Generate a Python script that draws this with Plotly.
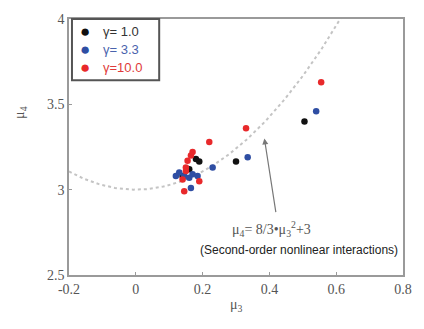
import numpy as np
import plotly.graph_objects as go

# data
black_x = [0.14, 0.16, 0.18, 0.19, 0.30, 0.505]
black_y = [3.08, 3.12, 3.18, 3.165, 3.165, 3.40]
blue_x = [0.12, 0.13, 0.145, 0.16, 0.17, 0.185, 0.165, 0.23, 0.335, 0.54]
blue_y = [3.08, 3.10, 3.08, 3.07, 3.09, 3.08, 3.01, 3.13, 3.19, 3.46]
red_x = [0.14, 0.15, 0.155, 0.165, 0.17, 0.145, 0.19, 0.15, 0.22, 0.33, 0.555]
red_y = [3.06, 3.11, 3.17, 3.20, 3.22, 2.99, 3.05, 3.13, 3.28, 3.36, 3.63]

series_names = ["γ= 1.0", "γ= 3.3", "γ=10.0"]

x_ticks = [-0.2, 0, 0.2, 0.4, 0.6, 0.8]
x_tick_labels = ["-0.2", "0", "0.2", "0.4", "0.6", "0.8"]
y_ticks = [2.5, 3, 3.5, 4]
y_tick_labels = ["2.5", "3", "3.5", "4"]

COLORS = ["#111111", "#2f4ea3", "#e8292b"]
TEXT_COLORS = ["#333333", "#4a63ad", "#e03a3a"]

curve_x = np.linspace(-0.2, 0.62, 120)
curve_y = 8 / 3 * curve_x ** 2 + 3

fig = go.Figure()
fig.add_trace(go.Scatter(x=curve_x, y=curve_y, mode="lines", showlegend=False,
                         line=dict(color="#c4c4c4", width=2, dash="dot"), hoverinfo="skip"))
for xs, ys, name, col in zip([black_x, blue_x, red_x], [black_y, blue_y, red_y], series_names, COLORS):
    fig.add_trace(go.Scatter(x=xs, y=ys, mode="markers", name=name, showlegend=False,
                             marker=dict(color=col, size=6.5)))

serif = "Liberation Serif, Times New Roman, serif"
sans = "Liberation Sans, Arial, sans-serif"

# manual legend (box + entries)
PW, PH, L, T = 337, 263, 69, 12
def dx(px):
    return (px - L) / PW
def dy(py):
    return 1 - (py - T) / PH

fig.add_shape(type="rect", xref="x domain", yref="y domain",
              x0=dx(72), x1=dx(160), y0=dy(75), y1=dy(12),
              line=dict(color="#555555", width=2), fillcolor="white", layer="above")
for i, (name, col, tcol) in enumerate(zip(series_names, COLORS, TEXT_COLORS)):
    ypx = 25 + i * 18.5
    fig.add_annotation(xref="x domain", yref="y domain", x=dx(85), y=dy(ypx),
                       xanchor="center", yanchor="middle", showarrow=False,
                       text="●", font=dict(family=sans, size=17, color=col))
    fig.add_annotation(xref="x domain", yref="y domain", x=dx(101), y=dy(ypx),
                       xanchor="left", yanchor="middle", showarrow=False,
                       text=name, font=dict(family=sans, size=13, color=tcol))

fig.add_annotation(x=0.385, y=3.30, ax=0.42, ay=2.86, xref="x", yref="y", axref="x", ayref="y",
                   text="", showarrow=True, arrowhead=2, arrowsize=1, arrowwidth=1.2,
                   arrowcolor="#777777")
fig.add_annotation(x=0.405, y=2.77, xref="x", yref="y", showarrow=False,
                   xanchor="center", yanchor="middle",
                   text="μ<sub>4</sub>= 8/3•μ<sub>3</sub><sup>2</sup>+3",
                   font=dict(family=serif, size=14, color="#555555"))
fig.add_annotation(x=0.49, y=2.645, xref="x", yref="y", showarrow=False,
                   xanchor="center", yanchor="middle",
                   text="(Second-order nonlinear interactions)",
                   font=dict(family=sans, size=12, color="#222222"))
# axis titles
fig.add_annotation(xref="x domain", yref="y domain", x=dx(20), y=dy(108),
                   xanchor="center", yanchor="middle",
                   showarrow=False, text="μ<sub>4</sub>", textangle=-90,
                   font=dict(family=serif, size=14, color="#555555"))
fig.add_annotation(xref="x domain", yref="y domain", x=0.5, y=dy(306),
                   xanchor="center", yanchor="middle", showarrow=False,
                   text="μ<sub>3</sub>",
                   font=dict(family=serif, size=14, color="#555555"))

axis_common = dict(showgrid=False, zeroline=False, showline=True, linecolor="#9a9a9a",
                   linewidth=1.5, mirror=True, ticks="inside", ticklen=3, tickcolor="#9a9a9a",
                   tickfont=dict(family=serif, size=14, color="#555555"))
fig.update_xaxes(range=[-0.2, 0.8], tickvals=x_ticks, ticktext=x_tick_labels, **axis_common)
fig.update_yaxes(range=[2.5, 4], tickvals=y_ticks, ticktext=y_tick_labels, **axis_common)

fig.update_layout(
    width=424, height=329,
    margin=dict(l=L, r=18, t=T, b=54),
    plot_bgcolor="white", paper_bgcolor="white",
    showlegend=False,
)

fig.write_html("out.html", config={"displayModeBar": False},
               post_script="document.body.style.margin='0';")
